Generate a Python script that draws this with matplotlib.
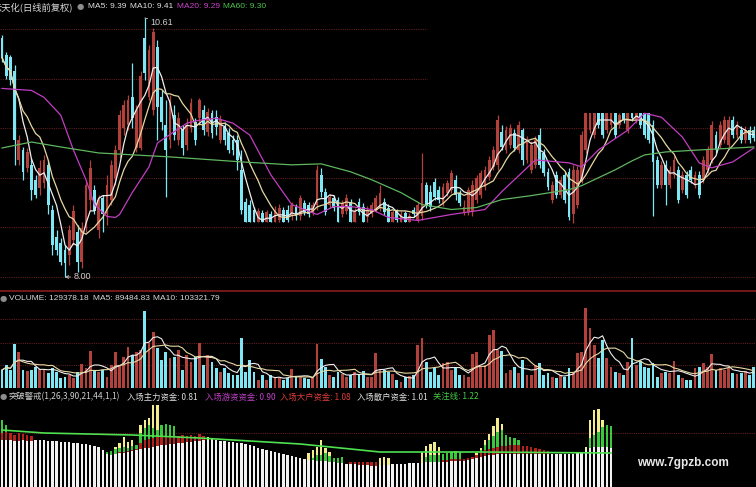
import numpy as np
import pandas as pd
import matplotlib
matplotlib.use("Agg")
import matplotlib.pyplot as plt
from matplotlib.lines import Line2D

W, H = 756, 487
CJK = ["Noto Sans CJK SC", "DejaVu Sans"]
LAT = ["Liberation Sans", "DejaVu Sans"]

# ---- daily candles (price) ----
opens = [
    10.41, 10.24, 10.22, 10.08, 9.18, 9.28, 9.10, 9.13, 8.98, 8.90,
    8.95, 9.13, 8.68, 8.40, 8.34, 8.27, 8.22, 8.37, 8.45, 8.15,
    8.49, 8.78, 8.88, 8.47, 8.80, 8.63, 8.78, 9.00, 9.28, 9.50,
    9.53, 9.81, 9.30, 9.30, 10.41, 9.81, 9.68, 10.32, 9.81, 9.53,
    9.38, 9.63, 9.38, 9.48, 9.33, 9.50, 9.56, 9.60, 9.68, 9.46,
    9.65, 9.61, 9.38, 9.51, 9.45, 9.38, 9.38, 9.08, 8.76, 8.73,
    8.68, 8.55, 8.64, 8.55, 8.63, 8.55, 8.57, 8.68, 8.68, 8.61,
    8.71, 8.61, 8.75, 8.73, 8.65, 8.73, 9.03, 8.86, 8.73, 8.80,
    8.78, 8.63, 8.66, 8.76, 8.55, 8.76, 8.71, 8.60, 8.63, 8.68,
    8.70, 8.76, 8.70, 8.55, 8.66, 8.55, 8.64, 8.55, 8.68, 8.57,
    8.61, 8.93, 8.86, 8.96, 8.88, 8.75, 8.85, 8.88, 8.98, 8.85,
    8.65, 8.65, 8.65, 8.78, 8.83, 8.91, 9.01, 9.11, 9.13, 9.46,
    9.28, 9.33, 9.45, 9.28, 9.48, 9.18, 9.08, 9.13, 9.43, 9.25,
    9.06, 8.78, 9.03, 8.83, 9.03, 9.06, 8.63, 8.73, 8.98, 9.28,
    9.48, 9.43, 9.65, 9.65, 9.48, 9.53, 9.65, 9.53, 9.65, 9.48,
    9.65, 9.58, 9.65, 9.65, 9.65, 9.53, 9.18, 8.93, 9.13, 8.93,
    9.03, 9.08, 8.88, 9.03, 9.08, 8.93, 9.03, 8.98, 9.08, 9.18,
    9.43, 9.33, 9.38, 9.33, 9.58, 9.43, 9.48, 9.38, 9.48, 9.48,
]
highs = [
    10.44, 10.27, 10.24, 10.14, 9.43, 9.31, 9.30, 9.20, 9.03, 9.18,
    9.23, 9.18, 8.73, 8.47, 8.39, 8.32, 8.52, 8.73, 8.52, 8.55,
    8.98, 9.18, 8.93, 8.83, 8.83, 9.03, 9.18, 9.33, 9.68, 9.78,
    9.83, 10.16, 9.73, 10.08, 10.61, 10.34, 10.51, 10.39, 9.88, 9.78,
    9.83, 9.73, 9.66, 9.53, 9.60, 9.80, 9.60, 9.80, 9.73, 9.70,
    9.68, 9.68, 9.63, 9.56, 9.50, 9.43, 9.43, 9.28, 8.80, 8.78,
    8.71, 8.70, 8.68, 8.68, 8.66, 8.72, 8.74, 8.71, 8.73, 8.76,
    8.74, 8.83, 8.78, 8.76, 8.76, 9.13, 9.10, 8.90, 8.84, 8.83,
    8.81, 8.78, 8.84, 8.79, 8.70, 8.80, 8.75, 8.72, 8.76, 8.83,
    8.93, 8.80, 8.74, 8.68, 8.69, 8.66, 8.67, 8.64, 8.71, 8.76,
    9.25, 8.96, 8.93, 9.00, 8.92, 8.95, 8.98, 9.08, 9.03, 8.88,
    8.78, 8.91, 8.98, 9.03, 9.08, 9.12, 9.22, 9.32, 9.63, 9.53,
    9.52, 9.54, 9.49, 9.57, 9.50, 9.42, 9.37, 9.42, 9.50, 9.29,
    9.10, 8.97, 9.07, 9.02, 9.07, 9.10, 9.13, 9.12, 9.47, 9.65,
    9.65, 9.65, 9.65, 9.65, 9.65, 9.65, 9.65, 9.65, 9.65, 9.65,
    9.65, 9.65, 9.65, 9.65, 9.65, 9.58, 9.22, 9.17, 9.18, 9.12,
    9.22, 9.12, 9.07, 9.07, 9.12, 9.07, 9.07, 9.22, 9.32, 9.57,
    9.47, 9.57, 9.62, 9.62, 9.62, 9.57, 9.52, 9.52, 9.52, 9.52,
]
lows = [
    10.17, 10.00, 9.93, 9.13, 9.13, 8.98, 9.06, 8.78, 8.80, 8.83,
    8.90, 8.63, 8.22, 8.22, 8.12, 8.00, 8.12, 8.32, 8.05, 8.09,
    8.45, 8.68, 8.63, 8.39, 8.45, 8.52, 8.73, 8.93, 9.20, 9.43,
    9.48, 9.50, 9.26, 9.28, 9.98, 9.78, 9.63, 9.38, 9.48, 8.81,
    9.30, 9.38, 9.33, 9.23, 9.28, 9.46, 9.33, 9.53, 9.43, 9.42,
    9.40, 9.43, 9.35, 9.33, 9.25, 9.23, 9.08, 8.63, 8.55, 8.55,
    8.55, 8.55, 8.55, 8.55, 8.55, 8.55, 8.55, 8.55, 8.55, 8.57,
    8.57, 8.57, 8.62, 8.60, 8.62, 8.68, 8.81, 8.62, 8.70, 8.66,
    8.55, 8.60, 8.63, 8.55, 8.55, 8.62, 8.55, 8.55, 8.60, 8.65,
    8.66, 8.62, 8.55, 8.55, 8.55, 8.55, 8.55, 8.55, 8.60, 8.55,
    8.57, 8.70, 8.66, 8.78, 8.75, 8.72, 8.82, 8.85, 8.78, 8.72,
    8.62, 8.62, 8.61, 8.75, 8.80, 8.88, 8.98, 9.08, 9.08, 9.28,
    9.25, 9.30, 9.27, 9.25, 9.13, 9.15, 9.05, 9.10, 9.10, 9.02,
    8.88, 8.75, 8.80, 8.80, 8.75, 8.57, 8.54, 8.70, 8.95, 9.25,
    9.45, 9.40, 9.50, 9.40, 9.45, 9.50, 9.40, 9.50, 9.55, 9.45,
    9.57, 9.55, 9.50, 9.40, 9.35, 8.61, 8.90, 8.90, 8.73, 8.90,
    9.00, 8.75, 8.85, 8.80, 8.95, 8.90, 8.80, 8.95, 9.05, 9.15,
    9.25, 9.30, 9.35, 9.30, 9.40, 9.40, 9.35, 9.35, 9.35, 9.37,
]
closes = [
    10.21, 10.03, 9.98, 9.38, 9.38, 9.06, 9.26, 8.88, 8.83, 9.10,
    9.18, 8.73, 8.32, 8.27, 8.15, 8.14, 8.47, 8.66, 8.15, 8.49,
    8.93, 9.10, 8.66, 8.78, 8.63, 8.93, 9.13, 9.28, 9.63, 9.73,
    9.78, 9.60, 9.68, 10.03, 10.06, 10.29, 10.47, 9.71, 9.56, 9.28,
    9.78, 9.43, 9.60, 9.30, 9.53, 9.75, 9.38, 9.78, 9.48, 9.66,
    9.45, 9.51, 9.58, 9.38, 9.28, 9.28, 9.18, 8.68, 8.55, 8.55,
    8.55, 8.66, 8.55, 8.65, 8.55, 8.68, 8.70, 8.55, 8.57, 8.73,
    8.61, 8.80, 8.65, 8.63, 8.73, 9.08, 8.86, 8.65, 8.81, 8.70,
    8.55, 8.75, 8.80, 8.55, 8.66, 8.65, 8.55, 8.68, 8.73, 8.80,
    8.85, 8.65, 8.55, 8.65, 8.57, 8.63, 8.55, 8.61, 8.63, 8.73,
    8.95, 8.73, 8.71, 8.81, 8.78, 8.91, 8.95, 9.05, 8.83, 8.75,
    8.71, 8.88, 8.93, 9.00, 9.05, 9.08, 9.18, 9.28, 9.58, 9.31,
    9.48, 9.50, 9.30, 9.53, 9.18, 9.38, 9.33, 9.38, 9.13, 9.05,
    8.91, 8.93, 8.83, 8.98, 8.78, 8.60, 9.08, 9.08, 9.43, 9.65,
    9.65, 9.65, 9.53, 9.43, 9.65, 9.65, 9.43, 9.63, 9.58, 9.65,
    9.60, 9.65, 9.53, 9.43, 9.38, 9.16, 8.93, 9.13, 8.93, 9.08,
    9.18, 8.78, 9.03, 8.83, 8.98, 9.03, 8.83, 9.18, 9.28, 9.53,
    9.28, 9.53, 9.58, 9.58, 9.43, 9.53, 9.38, 9.48, 9.38, 9.40,
]
# volume in thousands of lots
volumes = [
    110, 140, 110, 268, 220, 110, 104, 110, 128, 116,
    110, 92, 122, 98, 61, 67, 79, 61, 98, 146,
    122, 226, 110, 98, 110, 67, 140, 220, 140, 189,
    250, 201, 220, 232, 470, 275, 342, 244, 171, 220,
    183, 189, 232, 110, 201, 159, 189, 275, 140, 201,
    159, 122, 98, 122, 92, 79, 79, 305, 98, 171,
    98, 49, 79, 49, 79, 61, 61, 49, 61, 116,
    67, 67, 61, 55, 61, 268, 177, 128, 79, 67,
    98, 85, 67, 79, 98, 79, 104, 67, 67, 214,
    110, 110, 98, 85, 49, 37, 67, 73, 79, 262,
    305, 159, 98, 122, 79, 153, 159, 110, 122, 79,
    79, 67, 207, 220, 128, 140, 323, 354, 232, 226,
    92, 110, 128, 92, 171, 79, 79, 140, 153, 79,
    92, 67, 61, 79, 67, 122, 92, 214, 220, 488,
    366, 262, 183, 293, 183, 128, 98, 92, 79, 159,
    305, 140, 165, 128, 122, 153, 67, 92, 98, 92,
    165, 79, 61, 49, 49, 122, 128, 153, 128, 207,
    110, 122, 110, 122, 92, 85, 92, 104, 79, 128,
]
ma20_idx = [0, 7, 10, 14, 17, 20, 22, 25, 27, 28, 31, 35, 37, 44, 47, 51, 55, 59,
            64, 69, 75, 79, 83, 88, 92, 99, 107, 115, 119, 127, 135, 138, 142,
            149, 153, 157, 162, 166, 169, 174, 179]
ma20_val = [9.90, 9.88, 9.81, 9.63, 9.28, 8.98, 8.73, 8.61, 8.60, 8.63, 8.85, 9.11,
            9.35, 9.55, 9.58, 9.60, 9.55, 9.43, 9.03, 8.73, 8.63, 8.71, 8.71, 8.68,
            8.60, 8.57, 8.63, 8.68, 8.86, 9.18, 9.15, 9.11, 9.28, 9.48, 9.65, 9.61,
            9.41, 9.15, 9.10, 9.16, 9.30]
ma60_idx = [0, 7, 14, 23, 40, 57, 69, 76, 83, 88, 95, 100, 107, 113, 119, 126,
            135, 138, 142, 146, 150, 153, 158, 166, 179]
ma60_val = [9.30, 9.36, 9.31, 9.25, 9.21, 9.16, 9.13, 9.14, 9.06, 8.98, 8.85, 8.73,
            8.68, 8.70, 8.78, 8.82, 8.88, 8.92, 9.00, 9.08, 9.17, 9.23, 9.26, 9.28, 9.31]
price_grid = [10.5, 10.0, 9.5, 9.0, 8.5, 8.0]
vol_grid = [420, 275, 140]

# ---- breakout indicator ----
retail = [  # 入场散户资金 (white)
    1.46, 1.46, 1.46, 1.44, 1.44, 1.46, 1.44, 1.44, 1.46, 1.46,
    1.46, 1.44, 1.44, 1.44, 1.42, 1.42, 1.42, 1.40, 1.40, 1.38,
    1.38, 1.36, 1.34, 1.32, 1.26, 1.18, 1.16, 1.18, 1.20, 1.20,
    1.22, 1.24, 1.26, 1.28, 1.30, 1.30, 1.32, 1.34, 1.36, 1.36,
    1.38, 1.38, 1.40, 1.40, 1.42, 1.42, 1.44, 1.44, 1.46, 1.46,
    1.46, 1.46, 1.44, 1.44, 1.42, 1.42, 1.40, 1.40, 1.38, 1.36,
    1.34, 1.30, 1.28, 1.26, 1.24, 1.22, 1.20, 1.18, 1.16, 1.14,
    1.12, 1.10, 1.08, 1.06, 1.06, 1.04, 1.04, 1.04, 1.02, 1.02,
    1.00, 1.00, 0.98, 0.98, 0.98, 0.96, 0.96, 0.96, 0.94, 0.94,
    0.96, 0.96, 0.96, 0.98, 0.98, 0.98, 0.98, 1.00, 1.00, 1.00,
    1.00, 1.02, 1.02, 1.02, 1.02, 1.02, 1.02, 1.04, 1.04, 1.04,
    1.04, 1.06, 1.08, 1.10, 1.12, 1.14, 1.16, 1.16, 1.18, 1.18,
    1.18, 1.18, 1.18, 1.18, 1.18, 1.18, 1.18, 1.18, 1.18, 1.18,
    1.18, 1.18, 1.18, 1.18, 1.18, 1.18, 1.18, 1.20, 1.22, 1.26,
    1.30, 1.32, 1.32, 1.32, 1.32, 1.30,
]
big = [  # 入场大户资金 (red)
    1.60, 1.62, 1.60, 1.56, 1.60, 1.58, 1.56, 1.54, 0, 0,
    0, 0, 0, 0, 0, 0, 0, 0, 0, 0,
    0, 0, 0, 0, 0, 0, 0, 0, 1.22, 1.22,
    1.24, 1.26, 1.28, 1.40, 1.46, 1.48, 1.50, 1.52, 1.52, 1.52,
    1.54, 1.54, 1.54, 1.56, 1.54, 1.56, 1.54, 1.58, 1.54, 0,
    0, 0, 0, 0, 0, 0, 0, 0, 0, 0,
    0, 0, 0, 0, 0, 0, 0, 0, 0, 0,
    0, 0, 0, 0, 0, 0, 0, 0, 0, 0,
    0, 0, 0, 1.02, 1.02, 1.02, 1.02, 1.02, 1.02, 1.02,
    0, 0, 0, 0, 0, 0, 0, 0, 0, 0,
    0, 0, 0, 0, 0, 1.06, 1.06, 1.08, 1.08, 1.08,
    1.08, 1.10, 1.12, 1.16, 1.22, 1.26, 1.28, 1.30, 1.32, 1.34,
    1.34, 1.36, 1.36, 1.36, 1.34, 1.34, 1.32, 1.30, 1.28, 1.26,
    1.24, 0, 0, 0, 0, 0, 0, 0, 0, 0,
    0, 0, 0, 0, 0, 0,
]
hot = [  # 入场游资资金 (green)
    1.86, 1.76, 0, 0, 0, 0, 0, 0, 0, 0,
    0, 0, 0, 0, 0, 0, 0, 0, 0, 0,
    0, 0, 0, 0, 0, 1.22, 1.24, 1.28, 1.30, 1.32,
    1.30, 1.34, 1.36, 1.60, 1.70, 1.76, 1.70, 1.66, 1.76, 1.78,
    1.76, 1.74, 0, 0, 0, 0, 0, 0, 0, 0,
    0, 0, 0, 0, 0, 0, 0, 0, 0, 0,
    0, 0, 0, 0, 0, 0, 0, 0, 0, 0,
    0, 0, 0, 0, 1.10, 1.16, 1.16, 1.20, 1.14, 1.10,
    1.10, 1.12, 0, 0, 0, 0, 0, 0, 0, 0,
    0, 0, 0, 0, 0, 0, 0, 0, 0, 0,
    0, 1.12, 1.16, 1.16, 1.16, 1.18, 1.20, 1.22, 1.24, 1.22,
    0, 0, 0, 0, 1.26, 1.36, 1.46, 1.54, 1.62, 1.66,
    1.56, 1.52, 1.50, 1.46, 0, 0, 0, 0, 0, 0,
    0, 0, 0, 0, 0, 0, 0, 0, 0, 0,
    1.50, 1.56, 1.62, 1.72, 1.76, 1.74,
]
main = [  # 入场主力资金 (yellow)
    0, 0, 0, 0, 0, 0, 0, 0, 0, 0,
    0, 0, 0, 0, 0, 0, 0, 0, 0, 0,
    0, 0, 0, 0, 0, 0, 0, 1.32, 1.40, 1.52,
    1.42, 1.46, 0, 1.76, 1.86, 1.90, 2.16, 2.16, 1.70, 0,
    0, 0, 0, 0, 0, 0, 0, 0, 0, 1.52,
    1.50, 0, 0, 0, 0, 0, 0, 0, 0, 0,
    0, 0, 0, 0, 0, 0, 0, 0, 0, 0,
    0, 0, 0, 1.20, 1.26, 1.32, 1.46, 1.30, 1.22, 0,
    0, 0, 0, 0, 0, 0, 0, 0, 0, 0,
    1.10, 1.12, 1.10, 0, 0, 0, 0, 0, 0, 0,
    1.22, 1.34, 1.38, 1.42, 1.32, 0, 0, 0, 0, 0,
    0, 0, 0, 1.20, 1.30, 1.46, 1.58, 1.74, 1.90, 1.78,
    0, 0, 0, 0, 0, 0, 0, 0, 0, 0,
    0, 0, 0, 0, 0, 0, 0, 0, 0, 1.32,
    1.86, 2.06, 2.08, 1.86, 0, 0,
]
watch_idx = [0, 10, 31, 47, 59, 71, 83, 90, 114, 145]
watch_val = [1.66, 1.60, 1.56, 1.50, 1.44, 1.38, 1.28, 1.22, 1.22, 1.20]

UP, DOWN = "#b3413b", "#7fe6f3"
GRID = "#5e1d1d"

fig = plt.figure(figsize=(W / 100, H / 100), dpi=100, facecolor="black")


def band(top, bottom):
    return [0, 1 - bottom / H, 1, (bottom - top) / H]


ax_p = fig.add_axes(band(14, 290))
ax_v = fig.add_axes(band(292, 390))
ax_i = fig.add_axes(band(390, 487))
for ax in (ax_p, ax_v, ax_i):
    ax.set_facecolor("black")
    ax.set_axis_off()
    ax.set_xlim(-0.476, 179.524)

idx = np.arange(len(closes))
o, h, l, c = map(np.array, (opens, highs, lows, closes))
colors = np.where(c >= o, UP, DOWN)

# price panel
for i, g in enumerate(price_grid):
    ax_p.axhline(g, color=GRID, lw=0.8, ls=(0, (1, 1)), zorder=0,
                 xmax=427 / W if i < 2 else 1)
ax_p.vlines(idx, l, h, colors=colors, lw=0.9, zorder=2)
ax_p.bar(idx, np.maximum(np.abs(c - o), 0.01), bottom=np.minimum(o, c),
         width=0.7, color=colors, lw=0, zorder=2)
cs = pd.Series(closes)
ax_p.plot(idx, cs.rolling(5, min_periods=1).mean(), color="#eeeeee", lw=0.9, zorder=3)
ax_p.plot(idx, cs.rolling(10, min_periods=1).mean(), color="#e6d8a2", lw=0.9, zorder=3)
ax_p.plot(ma20_idx, ma20_val, color="#c23ec2", lw=0.9, zorder=3)
ax_p.plot(ma60_idx, ma60_val, color="#5fb65f", lw=0.9, zorder=3)
ax_p.set_ylim(7.869, 10.650)

hi = int(np.argmax(h))
lo = int(np.argmin(l))
ax_p.annotate(f"{h[hi]:.2f}", xy=(hi, h[hi]), xytext=(4, -3), textcoords="offset points",
              color="#cfcfcf", fontsize=6.5, family=LAT, va="center", ha="left",
              arrowprops=dict(arrowstyle="-", color="#cfcfcf", lw=0.6, shrinkA=0, shrinkB=0))
ax_p.annotate(f"{l[lo]:.2f}", xy=(lo, l[lo]), xytext=(6, 0), textcoords="offset points",
              color="#cfcfcf", fontsize=6.5, family=LAT, va="center", ha="left",
              arrowprops=dict(arrowstyle="->", color="#cfcfcf", lw=0.6, shrinkA=0, shrinkB=0,
                              mutation_scale=5))

fig.add_artist(Line2D([0, 1], [1 - 291 / H] * 2, color="#8a1c1c", lw=1.2,
                      transform=fig.transFigure))

# volume panel
for g in vol_grid:
    ax_v.axhline(g, color=GRID, lw=0.8, ls=(0, (1, 1)), zorder=0)
ax_v.bar(idx, volumes, width=0.7, color=colors, lw=0, zorder=2)
vs = pd.Series(volumes)
ax_v.plot(idx, vs.rolling(5, min_periods=1).mean(), color="#eeeeee", lw=0.8, zorder=3)
ax_v.plot(idx, vs.rolling(10, min_periods=1).mean(), color="#e6d8a2", lw=0.8, zorder=3)
ax_v.set_ylim(-12.2, 585.6)

# indicator panel
ii = np.arange(len(retail))
ax_i.axhline(1.60, color=GRID, lw=0.8, ls=(0, (1, 1)), zorder=0)
ax_i.bar(ii, main, width=0.55, color="#f3ec8c", lw=0, zorder=2)
ax_i.bar(ii, hot, width=0.55, color="#3cc83c", lw=0, zorder=2)
ax_i.bar(ii, big, width=0.55, color="#b3231b", lw=0, zorder=2)
ax_i.bar(ii, retail, width=0.55, color="#f2f2f2", lw=0, zorder=2)
ax_i.plot(watch_idx, watch_val, color="#4ee04e", lw=1.2, zorder=3)
ax_i.set_ylim(0.52, 2.46)


def label(x, y, s, color, fam=LAT, size=6.0, **kw):
    fig.text(x / W, 1 - y / H, s, color=color, fontsize=size, family=fam,
             va="center", ha=kw.pop("ha", "left"), **kw)


# header texts
label(73, 7, "云天化(日线前复权)", "#d8d8d8", fam=CJK, size=6.7, ha="right")
label(77, 7, "●", "#8c8c8c", fam=["DejaVu Sans"], size=6)
label(88, 7, "MA5: 9.39", "#e0e0e0")
label(130, 7, "MA10: 9.41", "#e0e0e0")
label(177, 7, "MA20: 9.29", "#c844c8")
label(223, 7, "MA60: 9.30", "#4cc44c")

label(0, 298, "●", "#8c8c8c", fam=["DejaVu Sans"], size=6)
label(9, 298, "VOLUME: 129378.18", "#d8d8d8")
label(93, 298, "MA5: 89484.83", "#d8d8d8")
label(153, 298, "MA10: 103321.79", "#d8d8d8")

label(0, 397, "●", "#8c8c8c", fam=["DejaVu Sans"], size=6)
label(9, 397, "突破警戒(1,26,3,90,21,44,1,1)", "#d0d0d0", fam=CJK)
label(127, 397, "入场主力资金: 0.81", "#e0e0e0", fam=CJK)
label(205, 397, "入场游资资金: 0.90", "#c040c8", fam=CJK)
label(280, 397, "入场大户资金: 1.08", "#e03c3c", fam=CJK)
label(357, 397, "入场散户资金: 1.01", "#e0e0e0", fam=CJK)
label(433, 397, "关注线: 1.22", "#44d044", fam=CJK)

label(683, 463, "www.7gpzb.com", "#e8e8e8", size=8.5, ha="center", weight="bold")

fig.savefig("out.png", dpi=100, facecolor="black")
